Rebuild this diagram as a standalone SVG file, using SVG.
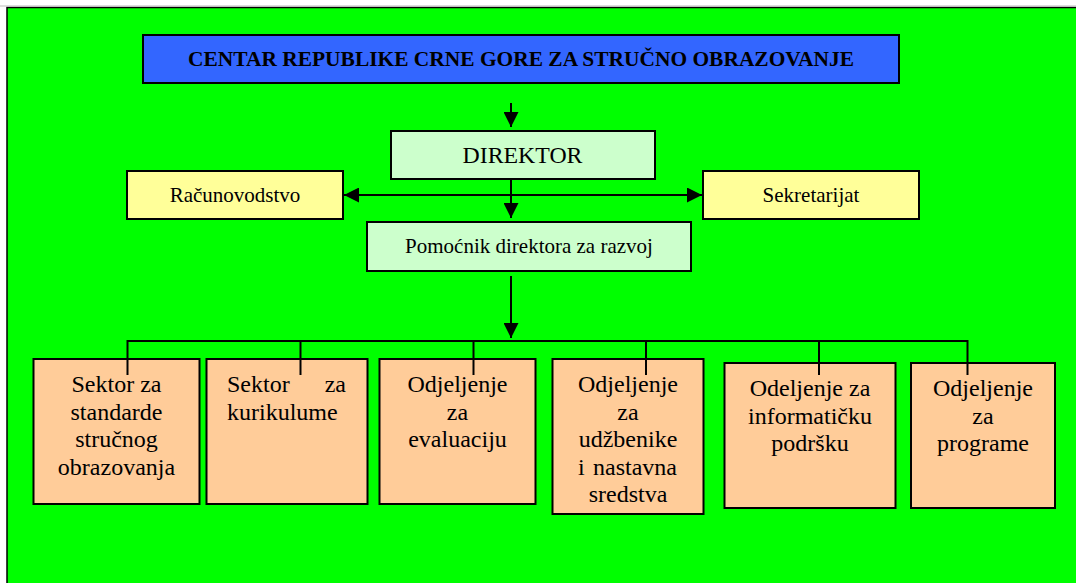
<svg xmlns="http://www.w3.org/2000/svg" width="1076" height="583" viewBox="0 0 1076 583">
<style>
.box{stroke:#000;stroke-width:2}
.blue{fill:#3366FF}
.lg{fill:#CCFFCC}
.yel{fill:#FFFF99}
.pe{fill:#FFCC99}
.c{text-anchor:middle}
.ln{stroke:#000;stroke-width:2;fill:none}
</style>
<defs>
<marker id="ah" viewBox="0 0 10 10" refX="10" refY="5" markerWidth="15" markerHeight="15" markerUnits="userSpaceOnUse" orient="auto-start-reverse">
<path d="M0,0 L10,5 L0,10 z" fill="#000"/>
</marker>
</defs>
<rect x="0" y="0" width="1076" height="583" fill="#fff"/>
<rect x="7" y="7.5" width="1080" height="590" fill="#00FF00" stroke="#000" stroke-width="1.5"/>
<line x1="0" y1="6" x2="1076" y2="6" stroke="#bbb" stroke-width="1"/>

<g font-family="'Liberation Serif', 'Times New Roman', serif" fill="#000">
<g id="node-centar">
<rect class="box blue" x="143" y="35" width="756" height="48"/>
<text x="521" y="66" class="c" font-size="22" font-weight="bold" textLength="666" lengthAdjust="spacingAndGlyphs">CENTAR REPUBLIKE CRNE GORE ZA STRUČNO OBRAZOVANJE</text>
</g>
<g id="node-direktor">
<rect class="box lg" x="391" y="131" width="264" height="48"/>
<text x="522.5" y="163" class="c" font-size="23" textLength="120" lengthAdjust="spacingAndGlyphs">DIREKTOR</text>
</g>
<g id="node-racunovodstvo">
<rect class="box yel" x="127" y="171" width="216" height="48"/>
<text x="235" y="202" class="c" font-size="21">Računovodstvo</text>
</g>
<g id="node-sekretarijat">
<rect class="box yel" x="703" y="171" width="216" height="48"/>
<text x="811" y="202" class="c" font-size="21">Sekretarijat</text>
</g>
<g id="node-pomocnik">
<rect class="box lg" x="367" y="222" width="324" height="49"/>
<text x="529" y="253" class="c" font-size="21">Pomoćnik direktora za razvoj</text>
</g>

<g id="node-sektor-standarde">
<rect class="box pe" x="33.5" y="359" width="166" height="145"/>
<text class="c" font-size="24"><tspan x="116.5" y="392">Sektor za</tspan><tspan x="116.5" y="419.6">standarde</tspan><tspan x="116.5" y="447.2">stručnog</tspan><tspan x="116.5" y="474.8">obrazovanja</tspan></text>
</g>
<g id="node-sektor-kurikulume">
<rect class="box pe" x="206.5" y="359" width="161" height="145"/>
<text font-size="24"><tspan x="227" y="392">Sektor</tspan><tspan x="346" y="392" text-anchor="end">za</tspan><tspan x="227" y="419.6">kurikulume</tspan></text>
</g>
<g id="node-evaluacija">
<rect class="box pe" x="379.5" y="359" width="156" height="145"/>
<text class="c" font-size="24"><tspan x="457.5" y="392">Odjeljenje</tspan><tspan x="457.5" y="419.6">za</tspan><tspan x="457.5" y="447.2">evaluaciju</tspan></text>
</g>
<g id="node-udzbenici">
<rect class="box pe" x="552.5" y="359" width="151" height="155"/>
<text class="c" font-size="24"><tspan x="628" y="392">Odjeljenje</tspan><tspan x="628" y="419.6">za</tspan><tspan x="628" y="447.2">udžbenike</tspan><tspan x="578" y="474.8" text-anchor="start">i</tspan><tspan x="677" y="474.8" text-anchor="end">nastavna</tspan><tspan x="628" y="502.4">sredstva</tspan></text>
</g>
<g id="node-informaticka">
<rect class="box pe" x="724.5" y="363" width="171" height="145"/>
<text class="c" font-size="24"><tspan x="810" y="396">Odeljenje za</tspan><tspan x="810" y="423.6">informatičku</tspan><tspan x="810" y="451.2">podršku</tspan></text>
</g>
<g id="node-programi">
<rect class="box pe" x="911" y="363" width="144" height="145"/>
<text class="c" font-size="24"><tspan x="983" y="396">Odjeljenje</tspan><tspan x="983" y="423.6">za</tspan><tspan x="983" y="451.2">programe</tspan></text>
</g>
</g>

<g id="connectors">
<line class="ln" x1="511" y1="103" x2="511" y2="127" marker-end="url(#ah)"/>
<line class="ln" x1="511" y1="179" x2="511" y2="218" marker-end="url(#ah)"/>
<line class="ln" x1="344" y1="195" x2="702" y2="195" marker-start="url(#ah)" marker-end="url(#ah)"/>
<line class="ln" x1="511" y1="276" x2="511" y2="338" marker-end="url(#ah)"/>
<polyline class="ln" points="127.5,375 127.5,341 967.5,341 967.5,375"/>
<line class="ln" x1="300.5" y1="341" x2="300.5" y2="375"/>
<line class="ln" x1="473.5" y1="341" x2="473.5" y2="375"/>
<line class="ln" x1="646" y1="341" x2="646" y2="375"/>
<line class="ln" x1="819" y1="341" x2="819" y2="375"/>
</g>
</svg>
